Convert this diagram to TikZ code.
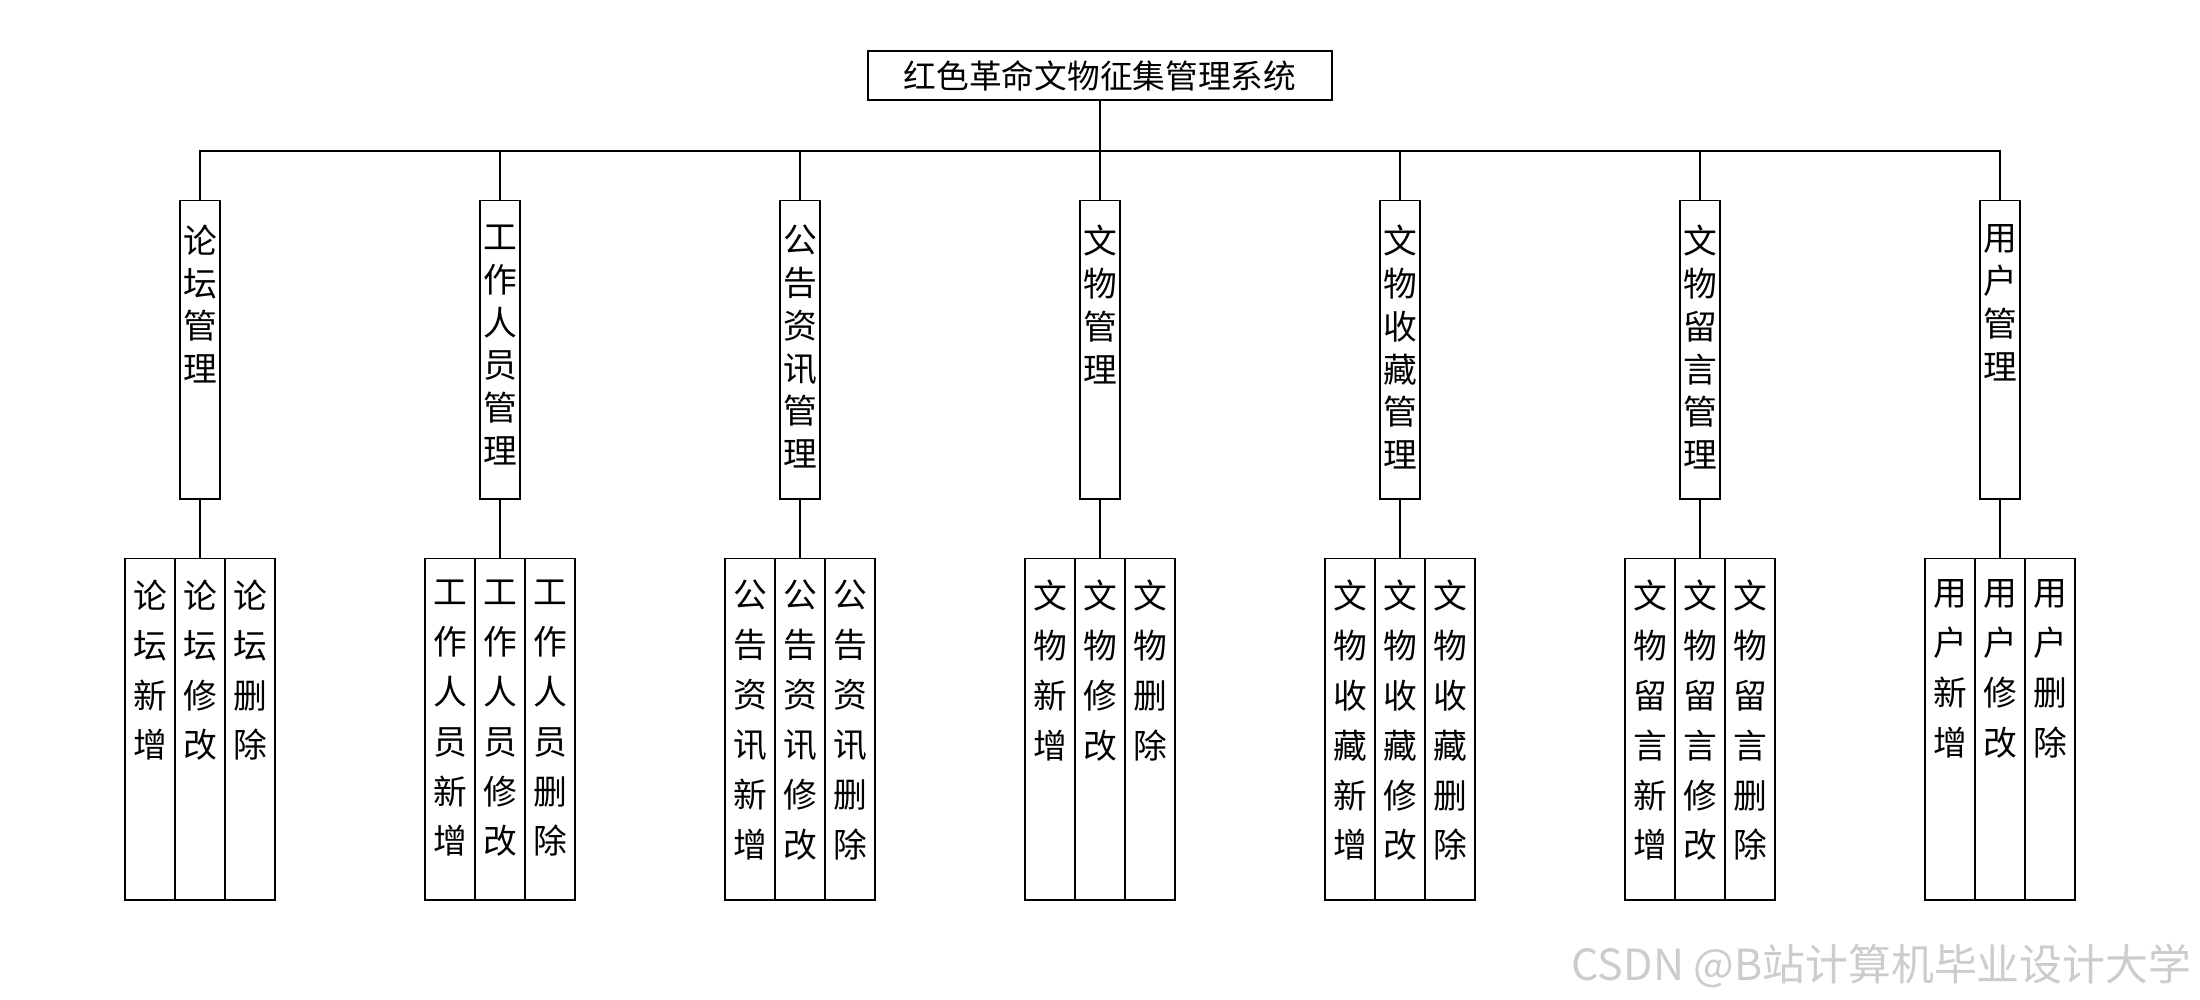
\documentclass[tikz,border=0pt]{standalone}
\usepackage{fontspec}
\newfontfamily\cjk{Noto Sans CJK SC}
\usepackage{tikz}
\usetikzlibrary{calc}

% Vertical text, set at the top of a fixed-size box
\newcommand{\modtext}[1]{\parbox[t][2.98cm][t]{0.4cm}{\vspace*{0.24cm}\centering #1}}
\newcommand{\subtext}[1]{\parbox[t][3.41cm][t]{0.5cm}{\vspace*{0.21cm}\centering #1}}

\begin{document}
\begin{tikzpicture}[x=0.01cm, y=-0.01cm,
    titlebox/.style={draw, inner sep=0pt, minimum width=4.64cm, minimum height=0.49cm,
      font=\cjk\fontsize{9.3}{12}\selectfont},
    modbox/.style={draw, inner sep=0pt, anchor=north, font=\cjk\fontsize{9.6}{12.2}\selectfont},
    subbox/.style={draw, inner sep=0pt, anchor=north, font=\cjk\fontsize{9.6}{14.2}\selectfont}]
    \useasboundingbox (0,0) rectangle (2200,1000);

    % Draw the root box and the bus line
    \node[titlebox] (title) at (1100,75.5) {红色革命文物征集管理系统};
    \coordinate (bus) at (0,151);
    \draw (title.south) -- (title.south |- bus);

    % Draw the modules and their three operations
    \foreach \pre [count=\i] in {论\\坛, 工\\作\\人\\员, 公\\告\\资\\讯, 文\\物,
                                  文\\物\\收\\藏, 文\\物\\留\\言, 用\\户} {
        \pgfmathsetmacro{\x}{200+300*(\i-1)}
        \node[modbox] (mod\i) at (\x,200) {\modtext{\pre\\管\\理}};
        \node[subbox] (sub\i-1) at (\x-50,558) {\subtext{\pre\\新\\增}};
        \node[subbox] (sub\i-2) at (\x,558) {\subtext{\pre\\修\\改}};
        \node[subbox] (sub\i-3) at (\x+50,558) {\subtext{\pre\\删\\除}};
        \draw (mod\i.north) |- (title.south |- bus);
        \draw (mod\i.south) -- (sub\i-2.north);
    }

    % Watermark
    \node[anchor=west, inner sep=0pt, text=gray!40, font=\cjk\fontsize{12.2}{14}\selectfont]
        (mark) at (1571,966) {CSDN @B站计算机毕业设计大学};
\end{tikzpicture}
\end{document}
